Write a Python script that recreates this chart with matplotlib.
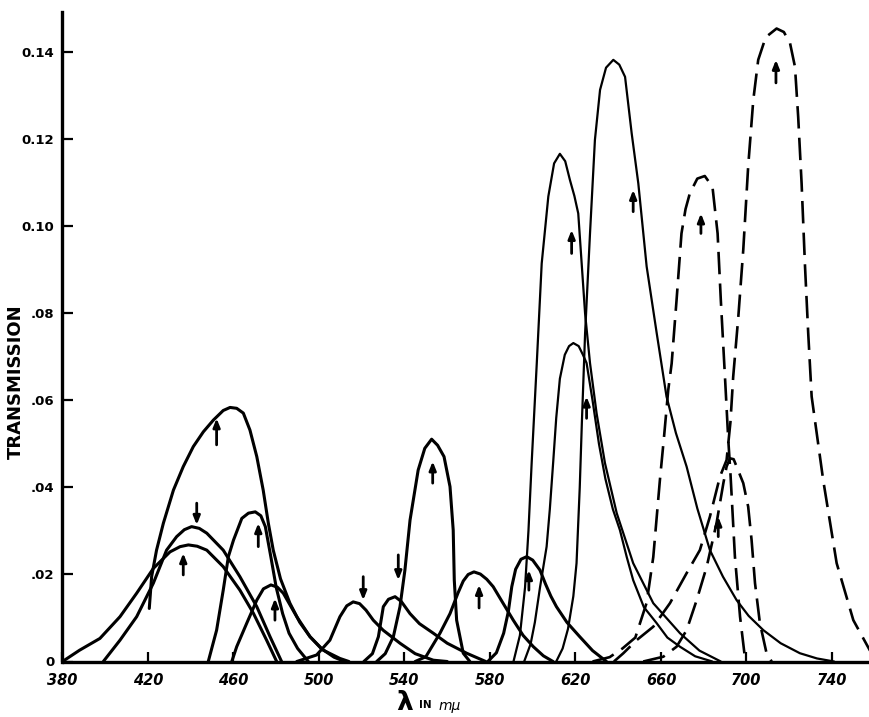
import matplotlib
matplotlib.use("Agg")
import matplotlib.pyplot as plt

# ---------------- data ----------------
x_ticks = [380, 420, 460, 500, 540, 580, 620, 660, 700, 740]
x_tick_labels = ["380", "420", "460", "500", "540", "580", "620", "660", "700", "740"]
y_ticks = [0, 0.02, 0.04, 0.06, 0.08, 0.10, 0.12, 0.14]
y_tick_labels = ["0", ".02", ".04", ".06", ".08", "0.10", "0.12", "0.14"]

a_x = [380, 388, 397.5, 406.9, 414.7, 422.5, 430.3, 435, 438.9, 443, 447.5, 455.2, 463, 469.3, 475.5, 480.2]
a_y = [0, 0.0026, 0.0053, 0.0103, 0.0157, 0.0214, 0.0252, 0.0264, 0.0268, 0.0265, 0.0256, 0.0218, 0.0164, 0.0111, 0.0049, 0]

b_x = [399.1, 406.9, 414.7, 422.5, 428.7, 433.4, 437, 440.4, 444, 447.5, 455.2, 463, 470.9, 477.1, 482.5]
b_y = [0, 0.0049, 0.0103, 0.018, 0.0256, 0.0287, 0.0303, 0.031, 0.0306, 0.0295, 0.0256, 0.0195, 0.0126, 0.0057, 0]

c_x = [420.6, 421.7, 424, 427.2, 431.9, 436.5, 441.2, 445.9, 450.6, 455.2, 458.4, 461.5, 464.6, 467.7,
       470.9, 473.9, 476.3, 478.6, 482, 486.4, 491, 495.8, 501, 507, 512]
c_y = [0.0122, 0.0195, 0.0256, 0.0318, 0.0394, 0.0448, 0.0494, 0.0528, 0.0555, 0.0577, 0.0584, 0.0582, 0.0571, 0.0532,
       0.0471, 0.0394, 0.0318, 0.0256, 0.019, 0.0134, 0.009, 0.0057, 0.003, 0.001, 0]

d_x = [448.2, 452.1, 455.2, 457.6, 460, 463.9, 467, 470.2, 472.8, 474.9, 477.5, 480, 483, 486, 490, 495]
d_y = [0, 0.0072, 0.0164, 0.0241, 0.0279, 0.0329, 0.0341, 0.0344, 0.0335, 0.031, 0.024, 0.017, 0.011, 0.0065, 0.003, 0]

e_x = [459.2, 461.5, 466.2, 470.9, 474, 477.5, 480.5, 483.3, 489.6, 495.8, 502, 509.8, 514]
e_y = [0, 0.0034, 0.0088, 0.0141, 0.0167, 0.0176, 0.0171, 0.0157, 0.0103, 0.0057, 0.0026, 0.0007, 0]

f_x = [489.6, 498.9, 505.1, 509.8, 513, 516, 519, 522, 525.4, 530, 537.9, 545, 553.5, 560]
f_y = [0, 0.0015, 0.0049, 0.0103, 0.0128, 0.0137, 0.0133, 0.0118, 0.0095, 0.0072, 0.0042, 0.0018, 0.0003, 0]

g_x = [521, 525, 527.8, 530.1, 532.5, 535.6, 538.5, 542.6, 547, 553.5, 560, 569.1, 578]
g_y = [0, 0.0018, 0.0057, 0.0126, 0.0143, 0.0149, 0.0138, 0.011, 0.0087, 0.0065, 0.0042, 0.0019, 0]

h_x = [527, 531, 534.8, 537.9, 540.2, 542.6, 546.4, 549.5, 552.7, 555.5, 558.5, 561.3, 562.8, 563.3, 564.4, 567.5, 570.6]
h_y = [0, 0.0018, 0.0057, 0.0126, 0.021, 0.0325, 0.044, 0.049, 0.0511, 0.0497, 0.0471, 0.0402, 0.0302, 0.0187, 0.0095, 0.0019, 0]

i_x = [545, 550, 556.6, 561.3, 565, 567.5, 569.8, 572.5, 575.5, 578.5, 581.5, 586, 590.9, 595.5, 600.3, 605, 609.5]
i_y = [0, 0.0011, 0.0065, 0.011, 0.0157, 0.0185, 0.02, 0.0206, 0.0201, 0.0189, 0.0172, 0.0135, 0.0095, 0.006, 0.0034, 0.0013, 0]

j_x = [579, 583, 586.4, 588.6, 590.2, 592, 594.5, 597.2, 600, 603.4, 606, 608.5, 611.1, 616, 622, 628, 634.5]
j_y = [0, 0.002, 0.0065, 0.0115, 0.0172, 0.0212, 0.0235, 0.0241, 0.0233, 0.021, 0.0178, 0.015, 0.0126, 0.009, 0.0057, 0.0025, 0]

k_x = [591, 594, 596.4, 598, 599.5, 601.9, 604.2, 607.3, 610, 612.7, 615.2, 617.4, 619.5, 621.3, 622.9, 624.5,
       626.8, 629.9, 633.8, 639.3, 647, 656.4, 668.9, 678, 688]
k_y = [0, 0.006, 0.017, 0.03, 0.0456, 0.0686, 0.0915, 0.1069, 0.1145, 0.1167, 0.115, 0.1107, 0.107, 0.103, 0.0915, 0.08,
       0.0686, 0.057, 0.0456, 0.0341, 0.0226, 0.0134, 0.0065, 0.0025, 0]

l_x = [596, 599, 601, 603.4, 606.5, 608, 609.6, 611, 612.7, 615, 617, 619, 621.5, 623.5, 625.2, 628, 631, 634,
       637.5, 640.8, 644, 647, 652, 658, 663, 668.9, 676, 684]
l_y = [0, 0.004, 0.009, 0.017, 0.0264, 0.035, 0.046, 0.056, 0.065, 0.0705, 0.0725, 0.0732, 0.0725, 0.0705, 0.0686,
       0.06, 0.05, 0.042, 0.035, 0.0302, 0.024, 0.0187, 0.0125, 0.0088, 0.0055, 0.0034, 0.0012, 0]

m_x = [611, 614, 616.5, 619, 620.5, 622, 623, 624.5, 626.8, 629.1, 631.5, 634.3, 637.7, 640.5, 643.2, 646.3, 649.4,
       653.3, 658, 662.6, 667, 672, 677, 682.9, 689, 695.4, 701, 707.9, 716, 725, 733, 741]
m_y = [0, 0.003, 0.0075, 0.015, 0.0226, 0.04, 0.055, 0.0754, 0.0984, 0.1199, 0.1314, 0.1365, 0.1383, 0.1372, 0.1344,
       0.1214, 0.1099, 0.0908, 0.0755, 0.0609, 0.0525, 0.0448, 0.0352, 0.0256, 0.0195, 0.0141, 0.0105, 0.0072, 0.0042,
       0.0019, 0.0007, 0]

n_x = [628, 636, 642, 648, 653.3, 656.4, 659.5, 661.5, 663.4, 665, 667.3, 669.6, 671.5, 673.5, 677, 680.5, 684.1,
       686.5, 688, 690.1, 691.5, 692.5, 694.6, 697, 699.5]
n_y = [0, 0.001, 0.003, 0.0055, 0.0135, 0.024, 0.0417, 0.052, 0.0624, 0.0685, 0.0831, 0.0984, 0.104, 0.1076, 0.111,
       0.1116, 0.1091, 0.0984, 0.0831, 0.064, 0.0509, 0.0433, 0.0241, 0.0103, 0]

o_x = [651.7, 661.1, 667.3, 672, 676.7, 681.4, 686, 689.2, 690.7, 692.3, 694, 695.4, 698.5, 700.8, 702.4, 704,
       706.3, 709.4, 711.8]
o_y = [0, 0.0011, 0.0034, 0.0072, 0.0141, 0.0218, 0.0318, 0.041, 0.0448, 0.0467, 0.0465, 0.0448, 0.041, 0.0356,
       0.0279, 0.018, 0.0088, 0.0019, 0]

p_x = [638, 642.4, 648.6, 656.4, 664.2, 672, 678.2, 682.9, 687.6, 690.7, 692.5, 693.8, 696.2, 698.5, 700.8, 703.2,
       705.5, 709, 714.1, 717.5, 720.4, 722.7, 724.2, 725.8, 727.4, 728.9, 730.5, 735.9, 742.2, 750, 757.8]
p_y = [0, 0.0019, 0.0049, 0.008, 0.0134, 0.0203, 0.0256, 0.0333, 0.0425, 0.0463, 0.055, 0.0655, 0.0793, 0.0946,
       0.1138, 0.1291, 0.1383, 0.1435, 0.1455, 0.1447, 0.1421, 0.1367, 0.1252, 0.1099, 0.0908, 0.0754, 0.0609, 0.0417,
       0.0226, 0.0095, 0.0025]

# arrows: x position, tail y, head y
arrow_x = [436.5, 442.8, 452.1, 471.6, 479.4, 520.7, 537.1, 553.2, 574.9, 598.2, 618.2, 625.2, 647, 678.7, 686.8, 713.8]
arrow_tail = [0.0199, 0.0364, 0.0498, 0.0264, 0.0095, 0.0195, 0.0245, 0.041, 0.0123, 0.0164, 0.0938, 0.0559, 0.1034,
              0.0984, 0.0287, 0.133]
arrow_head = [0.0249, 0.0314, 0.0559, 0.0318, 0.0145, 0.0141, 0.0187, 0.046, 0.0176, 0.021, 0.0992, 0.0609, 0.1084,
              0.103, 0.0333, 0.1383]

solid_heavy = [(a_x, a_y), (b_x, b_y), (c_x, c_y), (d_x, d_y), (e_x, e_y), (f_x, f_y), (g_x, g_y),
               (h_x, h_y), (i_x, i_y), (j_x, j_y)]
solid_light = [(k_x, k_y), (l_x, l_y), (m_x, m_y)]
dashed = [(n_x, n_y), (o_x, o_y), (p_x, p_y)]

# ---------------- figure ----------------
W, H = 870, 717
fig = plt.figure(figsize=(W / 100, H / 100), dpi=100)
left_px, right_px, bottom_px, top_px = 62.5, 870, 661.5, 12
ax = fig.add_axes([left_px / W, (H - bottom_px) / H, (right_px - left_px) / W, (bottom_px - top_px) / H])
ax.set_xlim(380, 757.8)
ax.set_ylim(0, 0.1493)

for xs, ys in solid_heavy:
    ax.plot(xs, ys, color="black", lw=2.2, solid_joinstyle="round", solid_capstyle="round")
for xs, ys in solid_light:
    ax.plot(xs, ys, color="black", lw=1.6, solid_joinstyle="round", solid_capstyle="round")
for xs, ys in dashed:
    ax.plot(xs, ys, color="black", lw=1.9, linestyle=(0, (8.5, 3.5)), dash_capstyle="butt")

for x, t, h in zip(arrow_x, arrow_tail, arrow_head):
    ax.annotate("", xy=(x, h), xytext=(x, t),
                arrowprops=dict(arrowstyle="-|>,head_length=0.5,head_width=0.2", lw=2.0,
                                color="black", shrinkA=0, shrinkB=0))

for side in ["top", "right"]:
    ax.spines[side].set_visible(False)
for side in ["left", "bottom"]:
    ax.spines[side].set_linewidth(2.4)
ax.spines["bottom"].set_capstyle("butt")

ax.set_xticks(x_ticks)
ax.set_xticklabels(x_tick_labels, fontsize=10.5, fontweight="bold", fontstyle="italic")
ax.set_yticks(y_ticks)
ax.set_yticklabels(y_tick_labels, fontsize=9.5, fontweight="bold")
ax.tick_params(axis="x", direction="in", length=7, width=1.6, pad=8)
ax.tick_params(axis="y", direction="in", length=8, width=1.6, pad=6)

fig.text(16 / W, 1 - 382 / H, "TRANSMISSION", rotation=90, ha="center", va="center",
         fontsize=13, fontweight="bold")
fig.text(413 / W, 1 - 703 / H, "λ", ha="right", va="center", fontsize=19, fontweight="bold")
fig.text(419 / W, 1 - 705 / H, "IN", ha="left", va="center", fontsize=7.5, fontweight="bold")
fig.text(439 / W, 1 - 706 / H, "mμ", ha="left", va="center", fontsize=10, fontstyle="italic")

fig.savefig("out.png", dpi=100, facecolor="white")
